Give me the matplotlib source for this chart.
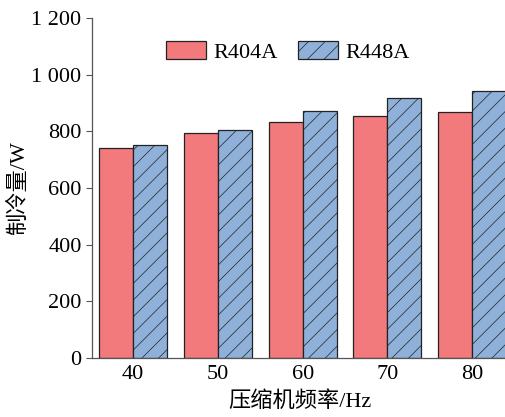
import numpy as np
import matplotlib
matplotlib.use("Agg")
import matplotlib.pyplot as plt

plt.rcParams['font.family'] = ['Liberation Serif', 'Noto Sans CJK SC']
plt.rcParams['hatch.linewidth'] = 0.5
plt.rcParams['hatch.color'] = '#2a3a55'

freq = ['40', '50', '60', '70', '80']
r404a = [740, 795, 832, 855, 870]
r448a = [752, 803, 873, 916, 941]
yticks = [0, 200, 400, 600, 800, 1000, 1200]
ytick_labels = ['0', '200', '400', '600', '800', '1 000', '1 200']

fig = plt.figure(figsize=(5.06, 4.17), dpi=100)
ax = fig.add_axes([0.1818, 0.1415, 0.82, 0.8153])

x = np.arange(len(freq))
w = 0.40
ax.bar(x - w / 2, r404a, w, color='#F27A7D', edgecolor='#222222',
       linewidth=0.9, label='R404A')
ax.bar(x + w / 2, r448a, w, color='#8FB1D9', edgecolor='#222222',
       linewidth=0.9, hatch='//', label='R448A')

ax.set_xlim(-0.485, 4.41)
ax.set_ylim(0, 1200)
ax.set_xticks(x)
ax.set_xticklabels(freq)
ax.set_yticks(yticks)
ax.set_yticklabels(ytick_labels)
ax.tick_params(axis='x', length=0, labelsize=16, pad=5)
ax.tick_params(axis='y', length=4.5, width=0.8, labelsize=16, color='#555555', pad=3)

for side in ['top', 'right']:
    ax.spines[side].set_visible(False)
for side in ['left', 'bottom']:
    ax.spines[side].set_color('#555555')
    ax.spines[side].set_linewidth(0.9)

ax.set_xlabel('压缩机频率/Hz', fontsize=16, labelpad=5)
ax.set_ylabel('制冷量/W', fontsize=16, labelpad=2)

ax.legend(loc='upper left', bbox_to_anchor=(0.13, 0.99), ncol=2, frameon=False,
          fontsize=16, handlelength=1.8, handleheight=0.85, columnspacing=0.9,
          handletextpad=0.35)

fig.savefig('out.png', dpi=100)
